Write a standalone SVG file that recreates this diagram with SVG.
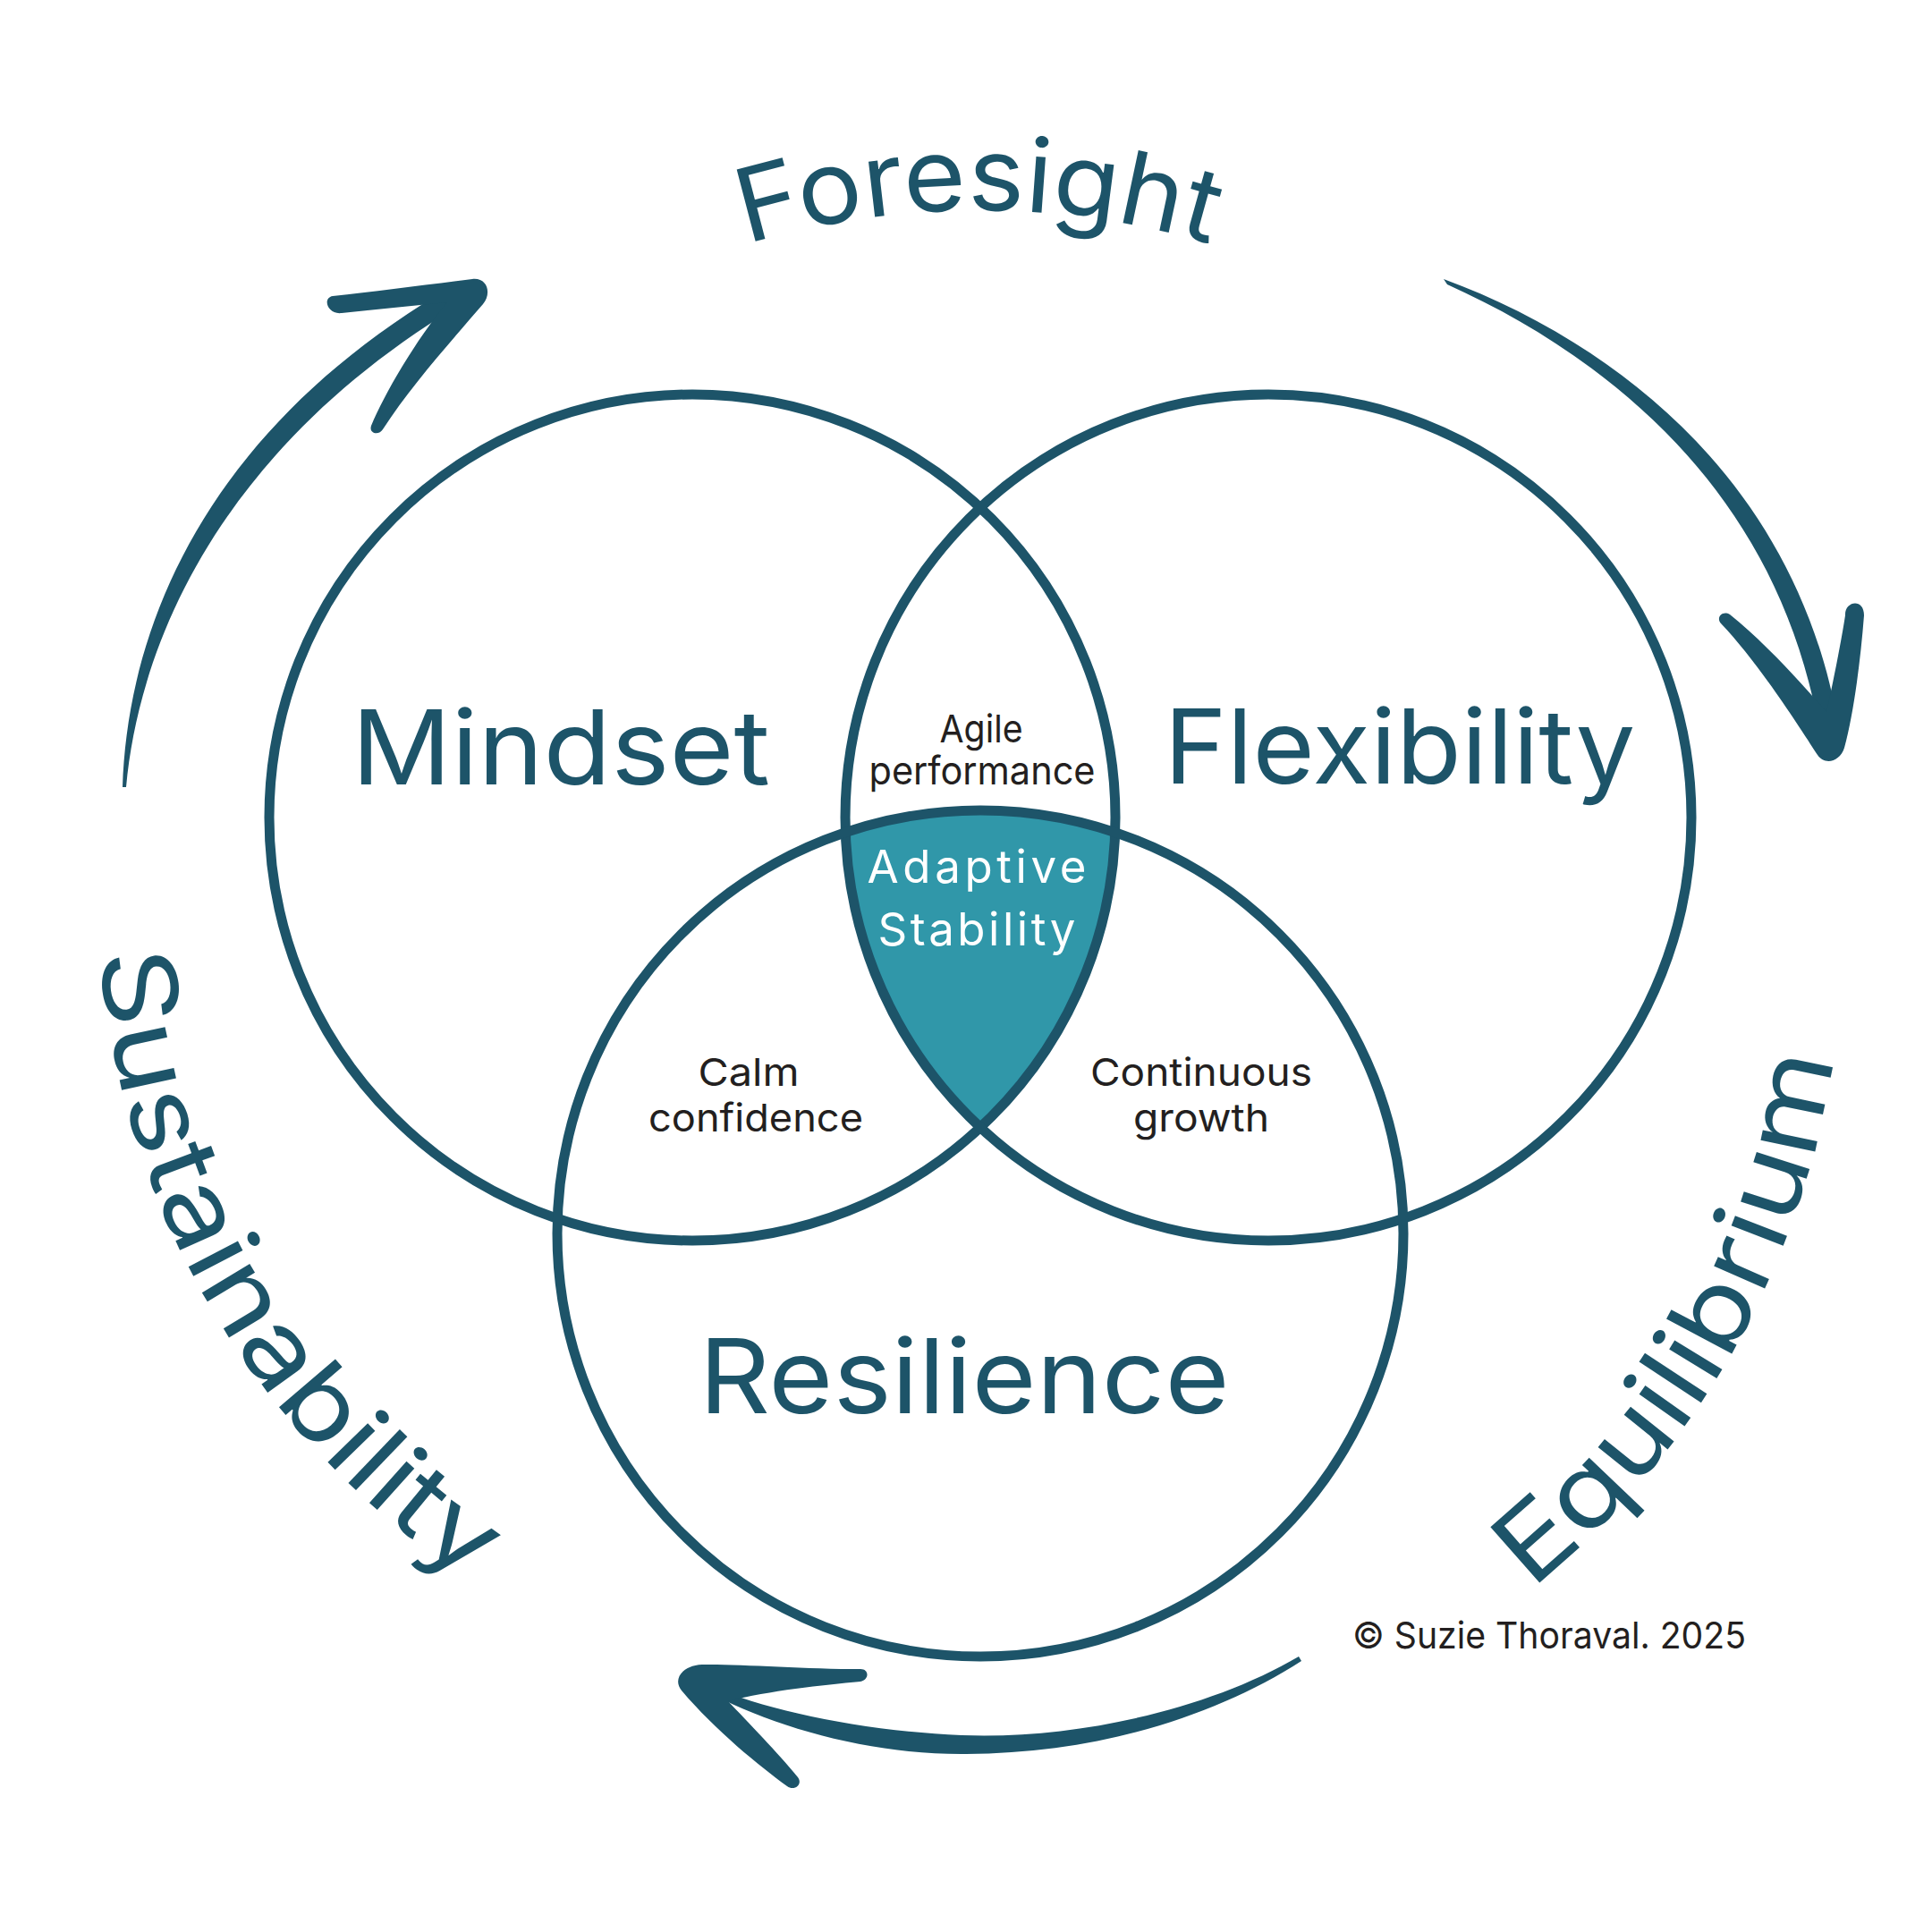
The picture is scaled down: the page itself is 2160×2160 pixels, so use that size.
<svg xmlns="http://www.w3.org/2000/svg" width="2160" height="2160" viewBox="0 0 2160 2160">
  <style>
    .ring { fill: none; stroke: #1D5469; stroke-width: 11; }
    .core { fill: #3097A9; }
    .big { font-family: Inter, "Liberation Sans", sans-serif; font-size: 116px; fill: #1D5469; text-anchor: middle; }
    .curve { font-family: Inter, "Liberation Sans", sans-serif; font-size: 114px; fill: #1D5469; }
    .small { font-family: Inter, "Liberation Sans", sans-serif; font-size: 43px; fill: #231F20; text-anchor: middle; }
    .core-label { font-family: Inter, "Liberation Sans", sans-serif; font-size: 51px; fill: #FFFFFF; text-anchor: middle; }
    .credit { font-family: Inter, "Liberation Sans", sans-serif; font-size: 41px; fill: #231F20; }
    .arrow { fill: #1D5469; stroke: none; }
  </style>
  <defs>
    <path id="p-foresight" d="M644,355.6 A900,900 0 0 1 1544,355.6" fill="none"/>
    <path id="p-sustain" d="M112.5,913.3 A926,926 0 0 0 718.3,1864.2" fill="none"/>
    <path id="p-equil" d="M1518.6,1897.3 A936,936 0 0 0 2055.4,967.4" fill="none"/>
  </defs>
  <rect x="0" y="0" width="2160" height="2160" fill="#FFFFFF"/>

  <g id="adaptive-stability">
    <path class="core" d="M945.3,930.7 A473,473 0 0 1 1246.7,930.7 A473,473 0 0 1 1096,1260.5 A473,473 0 0 1 945.3,930.7 Z"/>
  </g>

  <g id="mindset">
    <circle class="ring" cx="774" cy="914" r="473"/>
    <text class="big" x="627" y="877" textLength="468" lengthAdjust="spacingAndGlyphs">Mindset</text>
  </g>
  <g id="flexibility">
    <circle class="ring" cx="1418" cy="914" r="473"/>
    <text class="big" x="1565" y="876" textLength="527" lengthAdjust="spacingAndGlyphs">Flexibility</text>
  </g>
  <g id="resilience">
    <circle class="ring" cx="1096" cy="1379" r="473"/>
    <text class="big" x="1078" y="1580" textLength="593" lengthAdjust="spacingAndGlyphs">Resilience</text>
  </g>

  <g id="adaptive-stability-label">
    <text class="core-label" x="1092" y="987" textLength="245" lengthAdjust="spacing">Adaptive</text>
    <text class="core-label" x="1092" y="1057" textLength="221" lengthAdjust="spacing">Stability</text>
  </g>

  <g id="agile-performance">
    <text class="small" x="1097" y="830" textLength="93" lengthAdjust="spacingAndGlyphs">Agile</text>
    <text class="small" x="1098" y="877" textLength="253" lengthAdjust="spacingAndGlyphs">performance</text>
  </g>
  <g id="calm-confidence">
    <text class="small" x="837" y="1214" textLength="113" lengthAdjust="spacingAndGlyphs">Calm</text>
    <text class="small" x="845" y="1265" textLength="240" lengthAdjust="spacingAndGlyphs">confidence</text>
  </g>
  <g id="continuous-growth">
    <text class="small" x="1343" y="1214" textLength="248" lengthAdjust="spacingAndGlyphs">Continuous</text>
    <text class="small" x="1343" y="1265" textLength="152" lengthAdjust="spacingAndGlyphs">growth</text>
  </g>

  <g id="foresight">
    <text class="curve"><textPath href="#p-foresight" startOffset="50%" text-anchor="middle" textLength="526" lengthAdjust="spacingAndGlyphs">Foresight</textPath></text>
  </g>
  <g id="sustainability">
    <text class="curve"><textPath href="#p-sustain" startOffset="575" text-anchor="middle" textLength="845" lengthAdjust="spacingAndGlyphs">Sustainability</textPath></text>
  </g>
  <g id="equilibrium">
    <text class="curve"><textPath href="#p-equil" startOffset="578" text-anchor="middle" textLength="699" lengthAdjust="spacingAndGlyphs">Equilibrium</textPath></text>
  </g>

  <g id="connectors">
    <g id="arrow-top-left">
      <path class="arrow" d="M137,880 C143,690 240,470 516,314 L526,334 C258,490 157,706 141,880 Z"/>
      <path class="arrow" d="M372,331 C420,326 480,318 528,312 C545,310 550,328 540,340 C510,375 460,430 428,480 C424,487 412,485 415,476 C430,440 465,380 500,338 C460,342 420,346 382,350 C366,352 360,333 372,331 Z"/>
    </g>
    <g id="arrow-top-right">
      <path class="arrow" d="M1614,312 C1804,382 2016,540 2058,828 L2036,830 C1994,552 1796,398 1618,318 Z"/>
      <path class="arrow" d="M2063,688 C2062,672 2084,668 2084,688 C2080,740 2072,800 2062,836 C2057,852 2040,856 2032,844 C2010,810 1965,740 1924,697 C1918,690 1926,682 1934,687 C1975,720 2015,765 2042,796 C2050,760 2058,720 2063,688 Z"/>
    </g>
    <g id="arrow-bottom">
      <path class="arrow" d="M1452,1852 C1350,1912 1200,1945 1075,1940 C960,1935 860,1912 795,1886 L808,1900 C880,1935 980,1962 1080,1961 C1230,1960 1360,1918 1455,1857 Z"/>
      <path class="arrow" d="M962,1866 C900,1866 820,1860 785,1861 C762,1862 752,1878 762,1890 C800,1935 850,1975 880,1997 C888,2003 898,1995 892,1987 C870,1960 836,1925 814,1902 C860,1890 920,1884 962,1880 C972,1878 972,1866 962,1866 Z"/>
    </g>
  </g>

  <g id="credit">
    <text class="credit" x="1512" y="1843" textLength="440" lengthAdjust="spacingAndGlyphs">© Suzie Thoraval. 2025</text>
  </g>
</svg>
